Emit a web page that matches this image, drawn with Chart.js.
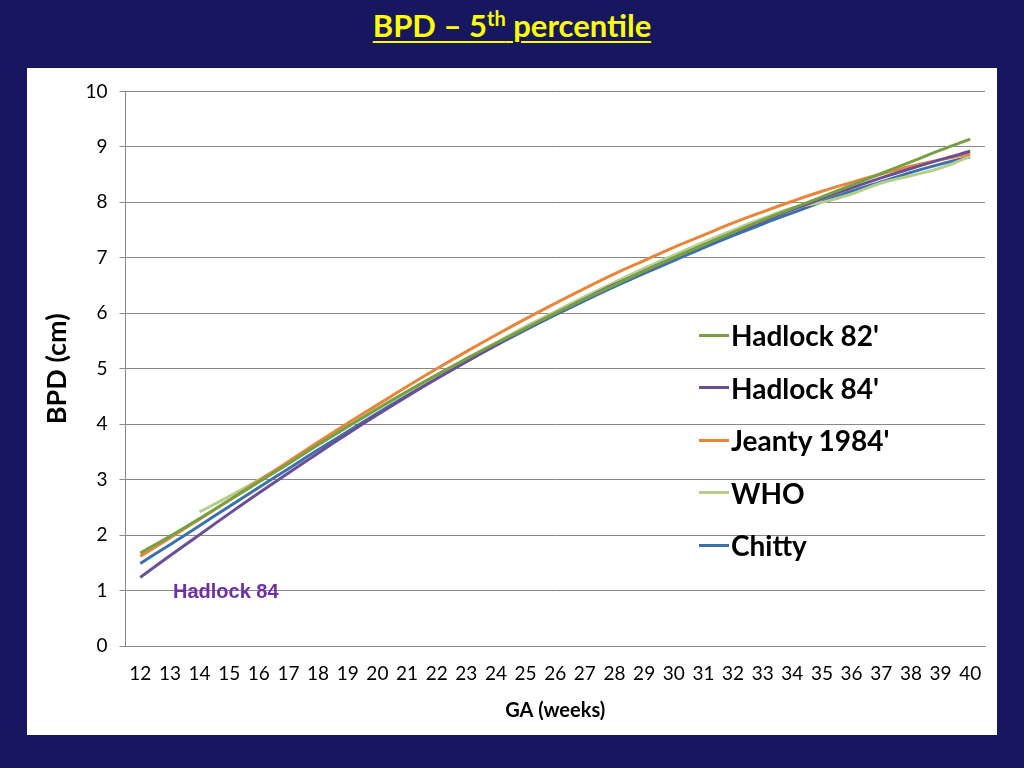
<!DOCTYPE html>
<html><head><meta charset="utf-8">
<script src="https://cdn.jsdelivr.net/npm/chart.js@4/dist/chart.umd.min.js"></script>
<style>
body{margin:0;width:1024px;height:768px;background:#16175e;position:relative;overflow:hidden;font-family:Lato,"Open Sans",sans-serif}
#title{position:absolute;top:6px;left:0;width:1024px;text-align:center;color:#ffff00;font-weight:bold;font-size:31px;}
#title span{text-decoration:underline;text-decoration-thickness:2px;text-underline-offset:4px}
#panel{position:absolute;left:27px;top:68px;width:970px;height:667px;background:#fff}
#legend{position:absolute;left:672px;top:241px;font-weight:bold;font-size:28px;color:#000}
#legend div{height:52.5px;display:flex;align-items:center}
#legend i{display:inline-block;width:30px;height:3px;margin-right:2px}
#note{position:absolute;left:146px;top:512px;color:#7030a0;font-weight:bold;font-size:20px;font-family:"Liberation Sans",Arial,sans-serif}
</style></head><body>
<div id="title"><span>BPD – 5<sup style="font-size:20px">th</sup> percentile</span></div>
<div id="panel"><canvas id="c" width="970" height="667"></canvas>
<div id="legend"></div><div id="note">Hadlock 84</div></div>
<script>
const weeks = [12,13,14,15,16,17,18,19,20,21,22,23,24,25,26,27,28,29,30,31,32,33,34,35,36,37,38,39,40];
const hadlock82 = [1.68,1.98,2.30,2.63,2.96,3.29,3.63,3.96,4.28,4.59,4.89,5.18,5.46,5.73,6.00,6.26,6.51,6.76,7.00,7.23,7.46,7.68,7.89,8.10,8.31,8.52,8.73,8.94,9.14];
const hadlock84 = [1.24,1.63,2.01,2.39,2.76,3.12,3.48,3.83,4.17,4.50,4.82,5.13,5.43,5.72,5.99,6.26,6.52,6.76,7.00,7.23,7.45,7.66,7.87,8.07,8.26,8.44,8.61,8.77,8.92];
const jeanty = [1.62,1.95,2.29,2.63,2.98,3.33,3.68,4.02,4.35,4.68,5.00,5.31,5.61,5.90,6.18,6.45,6.71,6.95,7.19,7.41,7.63,7.83,8.02,8.20,8.36,8.51,8.65,8.77,8.87];
const who = [null,null,2.42,2.70,3.00,3.31,3.63,3.95,4.27,4.58,4.88,5.18,5.47,5.76,6.03,6.30,6.56,6.81,7.05,7.28,7.50,7.71,7.90,8.00,8.15,8.35,8.48,8.62,8.83];
const chitty = [1.49,1.83,2.17,2.52,2.86,3.20,3.54,3.87,4.20,4.52,4.83,5.13,5.42,5.70,5.97,6.23,6.48,6.72,6.95,7.18,7.40,7.61,7.81,8.01,8.20,8.37,8.54,8.69,8.82];
const yTicks = [0,1,2,3,4,5,6,7,8,9,10];

const series = [
  ["Hadlock 82'", hadlock82, "#77a043"],
  ["Hadlock 84'", hadlock84, "#6a4f94"],
  ["Jeanty 1984'", jeanty, "#e8853a"],
  ["WHO", who, "#b3cf8c"],
  ["Chitty", chitty, "#3d6fab"]
];
document.getElementById("legend").innerHTML = series.map(s =>
  `<div><i style="background:${s[2]}"></i>${s[0]}</div>`).join("");

const font = {family: "Lato, 'Open Sans', sans-serif", size: 19};
new Chart(document.getElementById("c"), {
  type: "line",
  data: {
    labels: weeks,
    datasets: series.map(s => ({
      label: s[0], data: s[1], borderColor: s[2], borderWidth: 3,
      pointRadius: 0, tension: 0.4, fill: false
    }))
  },
  options: {
    responsive: false, animation: false,
    layout: {padding: {left: 10, right: 12, top: 9, bottom: 8}},
    plugins: {legend: {display: false}, tooltip: {enabled: false}},
    scales: {
      x: {
        offset: true,
        grid: {display: false, drawTicks: true, tickLength: 6},
        border: {color: "#888"},
        ticks: {color: "#000", font: font, maxRotation: 0, autoSkip: false, padding: 10},
        title: {display: true, text: "GA (weeks)", color: "#000", font: {family: font.family, size: 20, weight: "bold"}}
      },
      y: {
        min: 0, max: 10,
        afterBuildTicks: ax => { ax.ticks = yTicks.map(v => ({value: v})); },
        grid: {color: "#888", tickLength: 6},
        border: {color: "#888"},
        ticks: {color: "#000", font: font, padding: 12},
        title: {display: true, text: "BPD (cm)", color: "#000", font: {family: font.family, size: 27, weight: "bold"}, padding: {bottom: 0}}
      }
    }
  }
});
</script></body></html>
